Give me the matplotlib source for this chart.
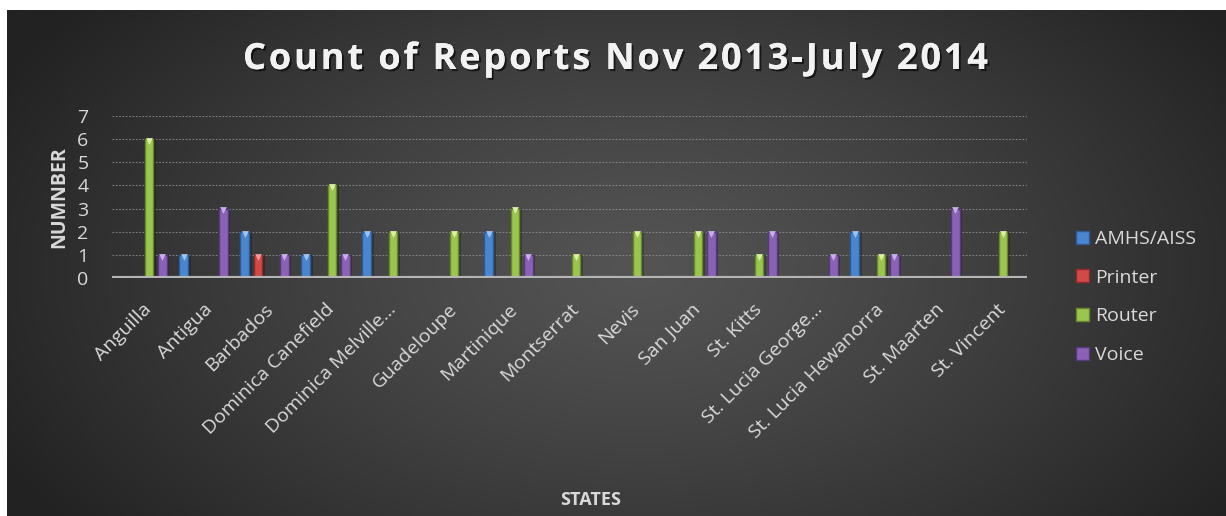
import numpy as np
import matplotlib
matplotlib.use("Agg")
import matplotlib.pyplot as plt
import matplotlib.patheffects as pe

# report counts per station, Nov 2013 - July 2014
states = [
    "Anguilla", "Antigua", "Barbados", "Dominica Canefield",
    "Dominica Melville\u2026", "Guadeloupe", "Martinique", "Montserrat",
    "Nevis", "San Juan", "St. Kitts", "St. Lucia George\u2026",
    "St. Lucia Hewanorra", "St. Maarten", "St. Vincent",
]
amhs = [0, 1, 2, 1, 2, 0, 2, 0, 0, 0, 0, 0, 2, 0, 0]
printer = [0, 0, 1, 0, 0, 0, 0, 0, 0, 0, 0, 0, 0, 0, 0]
router = [6, 0, 0, 4, 2, 2, 3, 1, 2, 2, 1, 0, 1, 0, 2]
voice = [1, 3, 1, 1, 0, 0, 1, 0, 0, 2, 2, 1, 1, 3, 0]

series_names = ["AMHS/AISS", "Printer", "Router", "Voice"]
series_vals = [amhs, printer, router, voice]
colors = ["#4a86d0", "#d24a47", "#9bc64e", "#8a62b5"]
edges = ["#2b5a95", "#8e2a28", "#66872c", "#58397e"]
tops = ["#9cc3f0", "#f09a98", "#d9f0a0", "#c8adea"]

title = "Count of Reports Nov 2013-July 2014"

W, H = 1226, 516
fig = plt.figure(figsize=(W / 100, H / 100), dpi=100)
fig.patch.set_facecolor("white")

# dark panel with a soft radial glow
bg = fig.add_axes([0, 0, 1, 1], zorder=-10)
bg.set_xlim(0, W)
bg.set_ylim(H, 0)
bg.axis("off")
gx, gy = np.meshgrid(np.linspace(7, W, 600), np.linspace(10, H, 260))
r = np.sqrt(((gx - 640) / 720) ** 2 + ((gy - 270) / 430) ** 2)
lum = 0x54 - (0x54 - 0x22) * np.clip(r, 0, 1) ** 1.2
img = np.dstack([lum, lum, lum]) / 255.0
bg.imshow(img, extent=(7, W, H, 10), aspect="auto", interpolation="bilinear")

ax = fig.add_axes([112 / W, 1 - 278 / H, (1027 - 112) / W, (278 - 116) / H])
ax.patch.set_alpha(0)

x = np.arange(len(states))
step = 0.218
bw = 0.14
for i, (name, vals) in enumerate(zip(series_names, series_vals)):
    pos = x + (i - 1.5) * step
    v = np.array(vals, dtype=float)
    ax.bar(pos, v, width=bw, color=colors[i], edgecolor=edges[i],
           linewidth=1.0, zorder=3, label=name)
    ax.bar(pos, v, width=bw * 0.45, color=colors[i], alpha=0.6,
           linewidth=0, zorder=4)
    ax.bar(pos + 0.035, v, width=bw + 0.02, color="black", alpha=0.25,
           linewidth=0, zorder=2)
    nz = v > 0
    ax.scatter(pos[nz], v[nz] - 0.08, marker="v", s=24, color=tops[i],
               linewidths=0, zorder=5)

ax.set_xlim(-0.5, len(states) - 0.5)
ax.set_ylim(0, 7)
ax.set_yticks(range(8))
ax.yaxis.grid(True, color="#8f8f8f", linestyle=(0, (1.5, 1.5)),
              linewidth=0.8, alpha=0.85)
ax.set_axisbelow(True)
ax.axhline(0, color="#b5b5b5", linewidth=3, zorder=6)
for s in ax.spines.values():
    s.set_visible(False)

tick_font = dict(family="Open Sans", size=14, color="#d9d9d9")
ax.tick_params(axis="both", length=0)
ax.tick_params(axis="y", pad=17)
ax.set_yticklabels([str(i) for i in range(8)], **tick_font)
ax.set_xticks(x)
ax.set_xticklabels(states, rotation=45, ha="right", va="top",
                   rotation_mode="anchor", **tick_font)
ax.tick_params(axis="x", pad=16)

ax.set_ylabel("NUMNBER", family="Open Sans", weight="bold", size=14,
              color="#d9d9d9", labelpad=6)
fig.text(591 / W, 1 - 500 / H, "STATES", family="Open Sans", weight="bold",
         size=13, color="#d9d9d9", ha="center", va="center")

# title with widened letter spacing, placed character by character
tprops = dict(family="Open Sans", weight="bold", size=26, color="#f2f2f2")
renderer = fig.canvas.get_renderer()
prefix_w = []
for k in range(len(title) + 1):
    t = fig.text(0, 0, title[:k] + "|", **tprops)
    bar_t = fig.text(0, 0, "|", **tprops)
    prefix_w.append(t.get_window_extent(renderer).width
                    - bar_t.get_window_extent(renderer).width)
    t.remove()
    bar_t.remove()
left, right = 243, 988
spacing = (right - left - prefix_w[-1]) / (len(title) - 1)
shadow = [pe.withSimplePatchShadow(offset=(1.5, -1.5), shadow_rgbFace="black",
                                   alpha=0.6), pe.Normal()]
for k, ch in enumerate(title):
    if ch == " ":
        continue
    px = left + prefix_w[k] + k * spacing
    fig.text(px / W, 1 - 69 / H, ch, ha="left", va="baseline",
             path_effects=shadow, **tprops)

leg = ax.legend(loc="center left", bbox_to_anchor=(1076 / W, 1 - 297 / H),
                bbox_transform=fig.transFigure, borderaxespad=0, borderpad=0,
                frameon=False, handlelength=0.65, handleheight=0.65,
                handletextpad=0.35, labelspacing=1.06,
                prop=dict(family="Open Sans", size=14))
for t in leg.get_texts():
    t.set_color("#d9d9d9")

fig.savefig("out.png", dpi=100, facecolor="white")
